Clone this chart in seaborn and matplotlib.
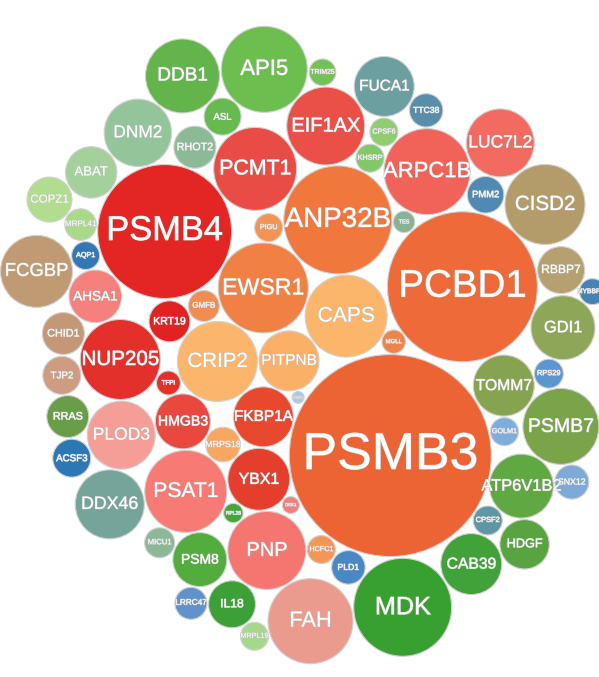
import numpy as np
import pandas as pd
import seaborn as sns
import matplotlib.pyplot as plt
from matplotlib import patheffects

# genes, in the order they are seeded into the layout spiral
genes = ["PITPNB", "MRPS18", "CRIP2", "NDRG", "GMFB", "CAPS", "FKBP1A", "EWSR1", "MGLL", "TFPI",
         "ANP32B", "DKK1", "KRT19", "PCBD1", "YBX1", "PIGU", "PSMB3", "NUP205", "TES", "PNP",
         "PSMB4", "TOMM7", "HMGB3", "KHSRP", "FAH", "AHSA1", "PMM2", "RPL28", "PCMT1", "PSMB7",
         "TJP2", "ARPC1B", "HCFC1", "COPZ1", "GDI1", "PSAT1", "EIF1AX", "CPSF2", "CHID1", "LUC7L2",
         "IL18", "RHOT2", "GOLM1", "PLOD3", "CPSF6", "PLD1", "MRPL41", "RBBP7", "PSM8", "ASL",
         "ATP6V1B2", "RRAS", "TTC38", "MRPL19", "DNM2", "RPS29", "DDX46", "TRIM25", "CAB39", "AQP1",
         "CISD2", "LRRC47", "DDB1", "SNX12", "ACSF3", "FUCA1", "MDK", "ABAT", "MYBBP1A", "MICU1",
         "API5", "HDGF", "FCGBP"]

# bubble radius in px
radius = [30, 17.3, 40, 6, 15.5, 41, 30, 45, 11.7, 12,
          54, 8.5, 20.5, 75, 31, 14, 101, 40, 10.7, 39,
          67, 30.5, 27.5, 14, 42.5, 26.3, 18.3, 9.7, 41.5, 38,
          19, 43, 14, 22.5, 32, 41, 39, 14.5, 21, 34,
          23.5, 21, 14, 34, 14, 16.8, 15.8, 23.5, 27, 18.5,
          32, 21, 16.7, 14, 33.7, 14.5, 34.5, 13.3, 30.5, 14,
          40, 16, 37, 17, 19, 30, 49, 25.7, 13, 15,
          43, 24.7, 36]

colors = ["#FBB068", "#F8A660", "#FCB66C", "#AAC8E8", "#F28C50", "#FCB66C", "#E8482E", "#F08044", "#F08448", "#E23228",
          "#F0783C", "#F2807A", "#E02222", "#EE6A38", "#E53E2C", "#F49454", "#EC6434", "#E3302A", "#88B294", "#F57670",
          "#E32624", "#86A450", "#E8483E", "#82C869", "#EA9B8E", "#F5807E", "#5089B2", "#46A63C", "#E84C44", "#7AA44A",
          "#CE9C80", "#F16259", "#F49656", "#B2DD8F", "#8EA658", "#F87A74", "#EA5048", "#5F96A5", "#C49876", "#F36A60",
          "#3CA036", "#8DBA96", "#7CAEDC", "#F59E98", "#8ECE6E", "#4888C4", "#A8DA8A", "#B6A070", "#52AC3E", "#67BA4E",
          "#60A842", "#689E48", "#588EAA", "#A6D88C", "#93C49A", "#5C96CE", "#74A49A", "#73C258", "#40A238", "#3278B4",
          "#B49C6A", "#6092CC", "#63B44A", "#7DAAD6", "#2C78B4", "#6CA0A0", "#38A030", "#A4D09B", "#4682B4", "#8CB898",
          "#6CBE4E", "#58A440", "#C09A72"]

bubbles = pd.DataFrame({"gene": genes, "radius": radius, "color": colors})
bubbles["area"] = bubbles["radius"] ** 2


def pack(r, spread=315.0, gap=1.6, ticks=300, tilt=65, stretch=1.07):
    # d3-like force layout: phyllotaxis seed, pull to centre, collide.
    # the cloud is a little longer along the `tilt` axis, as in the original
    n = len(r)
    k = np.arange(n)
    theta = k * np.pi * (3 - np.sqrt(5))
    rho = spread * np.sqrt((k + 0.5) / n)
    x, y = rho * np.cos(theta), rho * np.sin(theta)
    t = np.radians(tilt)
    ux, uy = np.cos(t), np.sin(t)
    a, b = x * ux + y * uy, -x * uy + y * ux
    a, b = a * stretch, b / stretch
    x, y = a * ux - b * uy, a * uy + b * ux
    g_long, g_short = 0.025, 0.033
    vx, vy = np.zeros(n), np.zeros(n)
    rr = r + gap / 2
    m = r ** 2
    w = m[None, :] / (m[:, None] + m[None, :])
    need = rr[:, None] + rr[None, :]
    alpha, decay = 1.0, 1 - 0.001 ** (1 / ticks)
    for _ in range(ticks):
        alpha -= alpha * decay
        a, b = x * ux + y * uy, -x * uy + y * ux
        ga, gb = a * g_long * alpha, b * g_short * alpha
        vx -= ga * ux - gb * uy
        vy -= ga * uy + gb * ux
        for _ in range(2):
            px, py = x + vx, y + vy
            dx = px[:, None] - px[None, :]
            dy = py[:, None] - py[None, :]
            d = np.hypot(dx, dy) + np.eye(n)
            push = np.clip(need - d, 0, None) / d * 0.5
            np.fill_diagonal(push, 0)
            vx += (dx * push * w).sum(1)
            vy += (dy * push * w).sum(1)
        vx *= 0.6
        vy *= 0.6
        x += vx
        y += vy
    # settle what is left of the overlaps
    for _ in range(200):
        dx = x[:, None] - x[None, :]
        dy = y[:, None] - y[None, :]
        d = np.hypot(dx, dy) + np.eye(n)
        push = np.clip(need - d, 0, None) / d * 0.5
        np.fill_diagonal(push, 0)
        x += (dx * push * w).sum(1)
        y += (dy * push * w).sum(1)
    return x, y


r = bubbles["radius"].to_numpy(float)
x, y = pack(r)
# centre the packed cloud on the canvas
bubbles["x"] = x - ((x - r).min() + (x + r).max()) / 2 + 303
bubbles["y"] = y - ((y - r).min() + (y + r).max()) / 2 + 345

sns.set_theme(style="white")
plt.rcParams["font.family"] = ["Liberation Sans", "DejaVu Sans"]

fig = plt.figure(figsize=(5.99, 6.77), dpi=100)
ax = fig.add_axes([0, 0, 1, 1])
pt = 72 / fig.dpi
amin, amax = bubbles["area"].min(), bubbles["area"].max()
sns.scatterplot(data=bubbles, x="x", y="y", hue="gene", palette=dict(zip(genes, colors)),
                size="area", sizes=(amin * (2 * pt) ** 2, amax * (2 * pt) ** 2), size_norm=(amin, amax),
                edgecolor="#d2d2d2", linewidth=0.8, alpha=1, legend=False, ax=ax)

halo = [patheffects.withStroke(linewidth=0.6, foreground="#c8c8c8")]
for row in bubbles.itertuples():
    ax.text(row.x, row.y, row.gene, ha="center", va="center", color="white",
            fontsize=row.radius * 0.37, path_effects=halo, zorder=5)

ax.set_xlim(0, 599)
ax.set_ylim(677, 0)
ax.axis("off")
plt.savefig("out.png", dpi=100)
